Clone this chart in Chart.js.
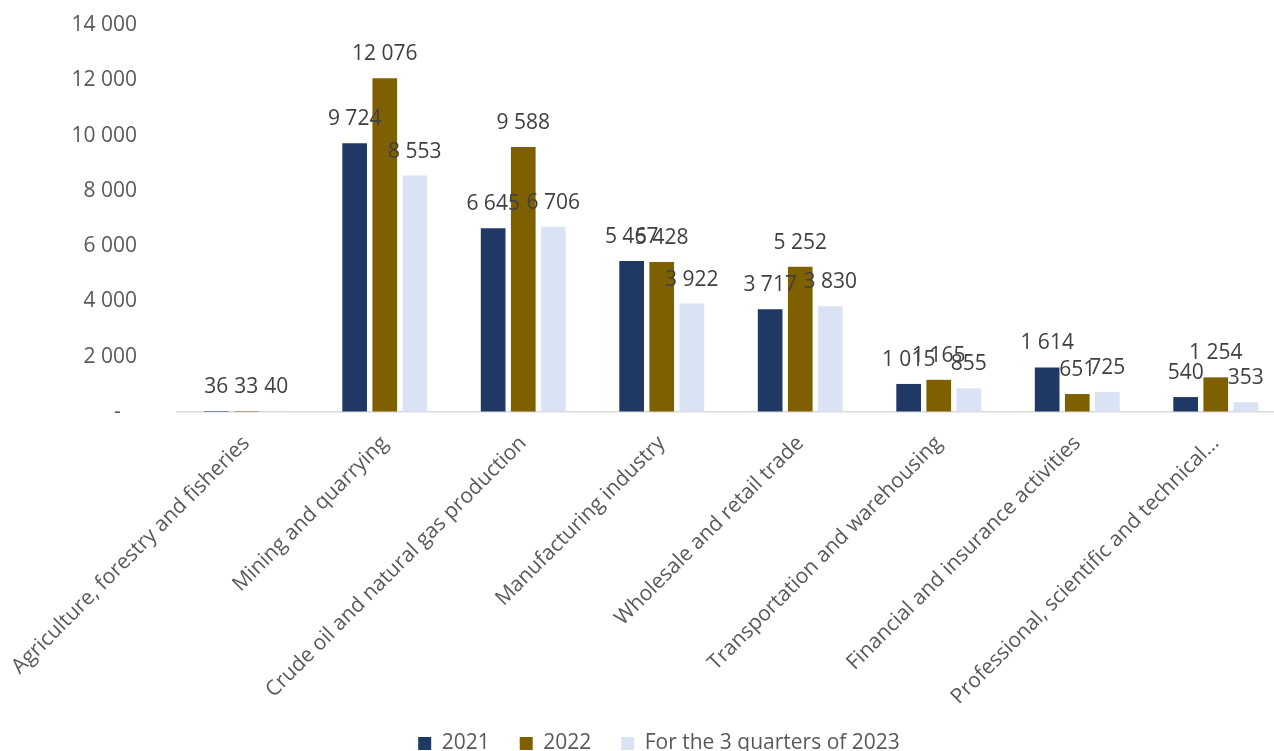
<!DOCTYPE html>
<html>
<head>
<meta charset="utf-8">
<script src="https://cdn.jsdelivr.net/npm/chart.js@4.4.0/dist/chart.umd.min.js"></script>
<style>
  html, body { margin: 0; padding: 0; background: #fff; overflow: hidden; }
  #wrap { width: 1285px; height: 751px; }
</style>
</head>
<body>
<div id="wrap"><canvas id="chart"></canvas></div>
<script>
const categories = [
  "Agriculture, forestry and fisheries",
  "Mining and quarrying",
  "Crude oil and natural gas production",
  "Manufacturing industry",
  "Wholesale and retail trade",
  "Transportation and warehousing",
  "Financial and insurance activities",
  "Professional, scientific and technical..."
];
const seriesNames = ["2021", "2022", "For the 3 quarters of 2023"];
const values2021 = [36, 9724, 6645, 5467, 3717, 1015, 1614, 540];
const values2022 = [33, 12076, 9588, 5428, 5252, 1165, 651, 1254];
const values2023 = [40, 8553, 6706, 3922, 3830, 855, 725, 353];
const yTicks = [0, 2000, 4000, 6000, 8000, 10000, 12000, 14000];

const FONT = "'Open Sans', 'Noto Sans', sans-serif";
const BOTTOM_PAD = -13;
const fmt = v => String(Math.round(v)).replace(/\B(?=(\d{3})+(?!\d))/g, " ");

// value labels above each bar
const barLabels = {
  id: "barLabels",
  afterDatasetsDraw(chart) {
    const ctx = chart.ctx;
    ctx.save();
    ctx.font = "21px " + FONT;
    ctx.fillStyle = "#404040";
    ctx.textAlign = "center";
    ctx.textBaseline = "middle";
    chart.data.datasets.forEach((ds, i) => {
      chart.getDatasetMeta(i).data.forEach((bar, j) => {
        ctx.fillText(fmt(ds.data[j]), bar.x, bar.y - 24);
      });
    });
    ctx.restore();
  }
};

new Chart(document.getElementById("chart"), {
  type: "bar",
  data: {
    labels: categories,
    datasets: [
      { label: seriesNames[0], data: values2021, backgroundColor: "#203864" },
      { label: seriesNames[1], data: values2022, backgroundColor: "#7f6000" },
      { label: seriesNames[2], data: values2023, backgroundColor: "#dae3f3" },
    ],
  },
  options: {
    responsive: true, maintainAspectRatio: false, animation: false,
    categoryPercentage: 0.652, barPercentage: 0.82,
    layout: { autoPadding: false, padding: { top: 25, left: 33, right: 0, bottom: BOTTOM_PAD } },
    plugins: {
      tooltip: { enabled: false },
      legend: {
        position: "bottom",
        labels: { boxWidth: 13, boxHeight: 13, padding: 30, color: "#595959", font: { family: FONT, size: 21 } },
      },
    },
    scales: {
      x: {
        grid: { display: false, drawTicks: false },
        border: { display: true, color: "#d9d9d9", width: 1.5 },
        ticks: {
          color: "#595959", font: { family: FONT, size: 21 },
          maxRotation: 45, minRotation: 45, autoSkip: false, padding: 19,
        },
        afterFit(scale) {
          const lg = scale.chart.legend ? scale.chart.legend.height : 50;
          scale.height = scale.chart.height - BOTTOM_PAD - lg - 412;
          // the long rotated labels may run past the left edge, as in the original
          scale.paddingLeft = 0;
          scale.paddingRight = 0;
        },
      },
      y: {
        min: 0, max: 14000,
        afterBuildTicks(scale) { scale.ticks = yTicks.map(v => ({ value: v })); },
        // invisible tick marks push the labels away from the plot without adding top padding
        grid: { display: true, color: "transparent", drawTicks: true, tickLength: 38 },
        border: { display: false },
        ticks: {
          color: "#595959", font: { family: FONT, size: 21 }, padding: 2,
          callback: v => v === 0 ? "-   " : fmt(v),
        },
        afterFit(scale) { scale.width = 144; },
      },
    },
  },
  plugins: [barLabels],
});
</script>
</body>
</html>
